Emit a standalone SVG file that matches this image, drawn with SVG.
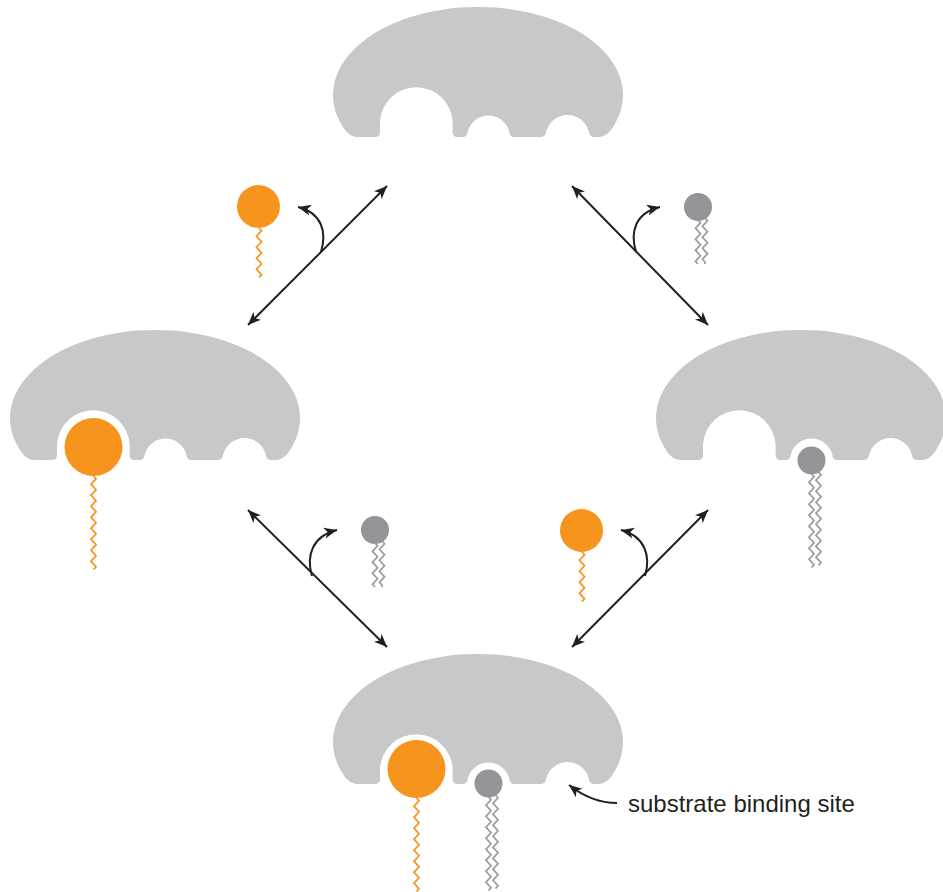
<svg xmlns="http://www.w3.org/2000/svg" width="943" height="892" viewBox="0 0 943 892">
  <style>
    .enzyme { fill: #c7c8ca; }
    .sub-a { fill: #f7941d; }
    .tail-a { fill: none; stroke: #f7941d; stroke-width: 1.8; }
    .sub-b { fill: #939598; }
    .tail-b { fill: none; stroke: #9b9c9f; stroke-width: 1.8; }
    .conn { fill: none; stroke: #231f20; stroke-width: 2; }
    .label { font-family: "Liberation Sans", Arial, sans-serif; font-size: 24px; fill: #231f20; }
  </style>
  <defs>
    <marker id="ah" viewBox="-13 -6 14 12" refX="0" refY="0" markerWidth="14" markerHeight="12" markerUnits="userSpaceOnUse" orient="auto-start-reverse">
      <path d="M0,0 L-13,-5.5 L-9.5,0 L-13,5.5 Z" fill="#231f20"/>
    </marker>
    <!-- enzyme body with one large and two small binding pockets -->
    <path id="enzymeShape" class="enzyme" d="M357,137 L375,137 Q380,137 380,132 L380,121 A36.4 36.4 0 0 1 452.6,121 L452.6,132 Q452.6,137 457.6,137 L462.4,137 Q467.4,137 467.6,132 A21.5 21.5 0 0 1 509.4,132 Q509.6,137 514.6,137 L540.5,137 Q545.5,137 546.1,132 A22 22 0 0 1 588.9,132 Q589.5,137 594.5,137 L599,137 Q605.4,137 611,130 A145 88 0 1 0 345,130 Q350.6,137 357,137 Z"/>
  </defs>

  <!-- connectors -->
  <g id="connectors">
    <path class="conn" d="M248,325 L387,186" marker-start="url(#ah)" marker-end="url(#ah)"/>
    <path class="conn" d="M321,252 C327,232 322,213 298,207" marker-end="url(#ah)"/>
    <path class="conn" d="M572,186 L708,325" marker-start="url(#ah)" marker-end="url(#ah)"/>
    <path class="conn" d="M636,252 C630,232 635,213 660,207" marker-end="url(#ah)"/>
    <path class="conn" d="M248,510 L387,647" marker-start="url(#ah)" marker-end="url(#ah)"/>
    <path class="conn" d="M312,576 C306,556 312,536 337,530" marker-end="url(#ah)"/>
    <path class="conn" d="M708,510 L572,647" marker-start="url(#ah)" marker-end="url(#ah)"/>
    <path class="conn" d="M645,576 C651,556 645,536 621,530" marker-end="url(#ah)"/>
    <path class="conn" d="M617,803 C598,803 583,796 569,785" marker-end="url(#ah)"/>
  </g>

  <!-- free enzyme -->
  <g id="enzyme-free">
    <use href="#enzymeShape"/>
  </g>

  <!-- enzyme with substrate A bound -->
  <g id="enzyme-a">
    <use href="#enzymeShape" transform="translate(-323,323)"/>
    <path class="tail-a" d="M93.5,476 l2.5,2.75 l-5,5.5 l5,5.5 l-5,5.5 l5,5.5 l-5,5.5 l5,5.5 l-5,5.5 l5,5.5 l-5,5.5 l5,5.5 l-5,5.5 l5,5.5 l-5,5.5 l5,5.5 l-5,5.5 l5,5.5 l-2.5,2.75"/>
    <circle class="sub-a" cx="93.5" cy="447" r="29"/>
  </g>

  <!-- enzyme with substrate B bound -->
  <g id="enzyme-b">
    <use href="#enzymeShape" transform="translate(323,323)"/>
    <path class="tail-b" d="M811.5,474 l2.5,2.75 l-5,5.5 l5,5.5 l-5,5.5 l5,5.5 l-5,5.5 l5,5.5 l-5,5.5 l5,5.5 l-5,5.5 l5,5.5 l-5,5.5 l5,5.5 l-5,5.5 l5,5.5 l-5,5.5 l5,5.5 l-2.5,2.75"/>
    <path class="tail-b" d="M818.5,472 l2.5,2.75 l-5,5.5 l5,5.5 l-5,5.5 l5,5.5 l-5,5.5 l5,5.5 l-5,5.5 l5,5.5 l-5,5.5 l5,5.5 l-5,5.5 l5,5.5 l-5,5.5 l5,5.5 l-5,5.5 l5,5.5 l-2.5,2.75"/>
    <circle class="sub-b" cx="811.5" cy="460.5" r="14"/>
  </g>

  <!-- enzyme with both substrates bound -->
  <g id="enzyme-ab">
    <use href="#enzymeShape" transform="translate(0,647)"/>
    <path class="tail-a" d="M416.5,798 l2.5,2.75 l-5,5.5 l5,5.5 l-5,5.5 l5,5.5 l-5,5.5 l5,5.5 l-5,5.5 l5,5.5 l-5,5.5 l5,5.5 l-5,5.5 l5,5.5 l-5,5.5 l5,5.5 l-5,5.5 l5,5.5 l-2.5,2.75"/>
    <circle class="sub-a" cx="416.5" cy="769" r="29"/>
    <path class="tail-b" d="M488.5,797 l2.5,2.75 l-5,5.5 l5,5.5 l-5,5.5 l5,5.5 l-5,5.5 l5,5.5 l-5,5.5 l5,5.5 l-5,5.5 l5,5.5 l-5,5.5 l5,5.5 l-5,5.5 l5,5.5 l-5,5.5 l5,5.5 l-2.5,2.75"/>
    <path class="tail-b" d="M495.5,795 l2.5,2.75 l-5,5.5 l5,5.5 l-5,5.5 l5,5.5 l-5,5.5 l5,5.5 l-5,5.5 l5,5.5 l-5,5.5 l5,5.5 l-5,5.5 l5,5.5 l-5,5.5 l5,5.5 l-5,5.5 l5,5.5 l-2.5,2.75"/>
    <circle class="sub-b" cx="488.5" cy="783.5" r="14"/>
  </g>

  <!-- free substrate A molecules -->
  <g id="free-a-top">
    <path class="tail-a" d="M259,228 l2.5,2.75 l-5,5.5 l5,5.5 l-5,5.5 l5,5.5 l-5,5.5 l5,5.5 l-5,5.5 l5,5.5 l-2.5,2.75"/>
    <circle class="sub-a" cx="258.5" cy="206.5" r="21.5"/>
  </g>
  <g id="free-a-bottom">
    <path class="tail-a" d="M582,552 l2.5,2.75 l-5,5.5 l5,5.5 l-5,5.5 l5,5.5 l-5,5.5 l5,5.5 l-5,5.5 l5,5.5 l-2.5,2.75"/>
    <circle class="sub-a" cx="581.5" cy="530.5" r="21.5"/>
  </g>

  <!-- free substrate B molecules -->
  <g id="free-b-top">
    <path class="tail-b" d="M698,220 l2.5,2.75 l-5,5.5 l5,5.5 l-5,5.5 l5,5.5 l-5,5.5 l5,5.5 l-5,5.5 l2.5,2.75"/>
    <path class="tail-b" d="M705,218 l2.5,2.75 l-5,5.5 l5,5.5 l-5,5.5 l5,5.5 l-5,5.5 l5,5.5 l-5,5.5 l2.5,2.75 l0,2"/>
    <circle class="sub-b" cx="698" cy="207" r="14"/>
  </g>
  <g id="free-b-bottom">
    <path class="tail-b" d="M375,543 l2.5,2.75 l-5,5.5 l5,5.5 l-5,5.5 l5,5.5 l-5,5.5 l5,5.5 l-5,5.5 l2.5,2.75"/>
    <path class="tail-b" d="M382,541 l2.5,2.75 l-5,5.5 l5,5.5 l-5,5.5 l5,5.5 l-5,5.5 l5,5.5 l-5,5.5 l2.5,2.75 l0,2"/>
    <circle class="sub-b" cx="375" cy="530" r="14"/>
  </g>

  <text class="label" x="628" y="812">substrate binding site</text>
</svg>
